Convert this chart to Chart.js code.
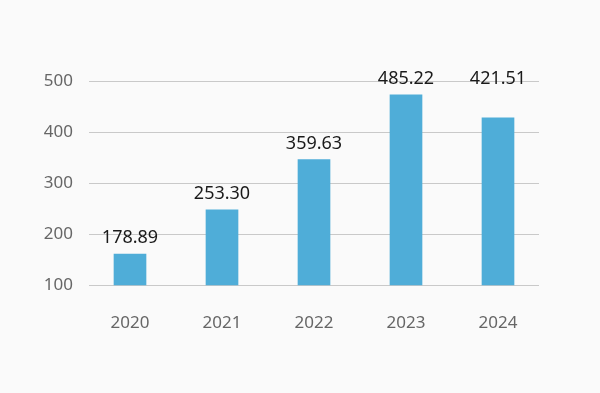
<!DOCTYPE html>
<html>
<head>
<meta charset="utf-8">
<script src="https://cdn.jsdelivr.net/npm/chart.js@4"></script>
<style>
  html, body { margin: 0; padding: 0; background: #fafafa; }
  #wrap { width: 600px; height: 393px; position: relative; }
</style>
</head>
<body>
<div id="wrap"><canvas id="barChart"></canvas></div>
<script>
// Chart data
const years = ['2020', '2021', '2022', '2023', '2024'];
const barValues = [161, 248, 346, 473, 428];           // bar heights as drawn
const valueLabels = ['178.89', '253.30', '359.63', '485.22', '421.51'];
const yTicks = [100, 200, 300, 400, 500];

// Gridlines inset a little from the plot edges, plus value labels above bars
const customDraw = {
    id: 'customDraw',
    beforeDatasetsDraw(chart) {
        const { ctx, chartArea, scales } = chart;
        ctx.save();
        ctx.strokeStyle = '#c9c9c9';
        ctx.lineWidth = 1;
        yTicks.forEach(t => {
            const y = Math.round(scales.y.getPixelForValue(t)) + 0.5;
            ctx.beginPath();
            ctx.moveTo(chartArea.left + 5, y);
            ctx.lineTo(chartArea.right - 5, y);
            ctx.stroke();
        });
        ctx.restore();
    },
    afterDatasetsDraw(chart) {
        const { ctx } = chart;
        const meta = chart.getDatasetMeta(0);
        ctx.save();
        ctx.fillStyle = '#1a1a1a';
        ctx.font = '18px "Noto Sans"';
        ctx.textAlign = 'center';
        ctx.textBaseline = 'alphabetic';
        // a label never sits lower than the one before it
        let top = Infinity;
        meta.data.forEach((bar, i) => {
            top = Math.min(bar.y, top);
            ctx.fillText(valueLabels[i], bar.x, top - 11);
        });
        ctx.restore();
    }
};

const ctx = document.getElementById('barChart').getContext('2d');
new Chart(ctx, {
    type: 'bar',
    data: {
        labels: years,
        datasets: [{
            data: barValues,
            backgroundColor: '#4fadd8',
            borderWidth: 0,
            barThickness: 32
        }]
    },
    options: {
        responsive: true,
        maintainAspectRatio: false,
        animation: false,
        layout: { padding: { top: 81, right: 56, left: 0, bottom: 0 } },
        plugins: {
            legend: { display: false },
            tooltip: { enabled: false }
        },
        scales: {
            y: {
                min: 100,
                max: 500,
                afterBuildTicks: axis => { axis.ticks = yTicks.map(v => ({ value: v })); },
                afterFit: axis => { axis.width = 84; },
                border: { display: false },
                grid: { display: false, drawTicks: false },
                ticks: {
                    padding: 11,
                    color: '#666',
                    font: { family: 'Noto Sans', size: 17 }
                }
            },
            x: {
                afterFit: axis => { axis.height = 107.7; },
                border: { display: false },
                grid: { display: false, drawTicks: false },
                ticks: {
                    padding: 28,
                    color: '#666',
                    font: { family: 'Noto Sans', size: 17 }
                }
            }
        }
    },
    plugins: [customDraw]
});
</script>
</body>
</html>
